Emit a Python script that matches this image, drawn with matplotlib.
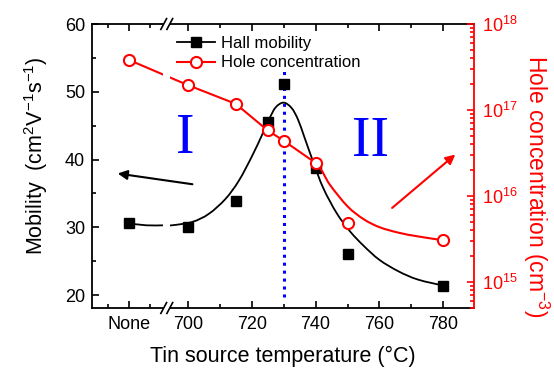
import matplotlib
matplotlib.use("Agg")
import numpy as np
import matplotlib.pyplot as plt
from matplotlib.patches import Rectangle, PathPatch
from matplotlib.path import Path
import matplotlib.transforms as mtransforms

plt.rcParams['font.family'] = ['Liberation Sans', 'DejaVu Sans']
plt.rcParams['mathtext.fontset'] = 'custom'
plt.rcParams['mathtext.rm'] = 'Liberation Sans'
plt.rcParams['mathtext.it'] = 'Liberation Sans:italic'

# ---- data ----
tick_labels = ['None', '700', '720', '740', '760', '780']
tick_pos = [681.5, 700, 720, 740, 760, 780]          # 'None' placed before the axis break
minor_pos = [675, 688.3, 710, 730, 750, 770]

sample_x = [681.5, 700, 715, 725, 730, 740, 750, 780]
mobility = [30.6, 30.1, 33.9, 45.5, 51.1, 38.8, 26.1, 21.3]
hole_conc = [3.83e17, 1.95e17, 1.18e17, 5.8e16, 4.4e16, 2.43e16, 4.9e15, 3.06e15]

# guide curves as drawn in the figure
mob_fit_x = [681.5, 687, 692.5, 695, 701.4, 706.6, 711.8, 716, 720.2, 723.3, 725.5,
             727.5, 730, 732.5, 734.5, 736.5, 739.3, 742.4, 746.6, 750.8,
             755, 760, 766, 772, 780]
mob_fit_y = [30.6, 30.3, 30.3, 30.3, 30.8, 32.0, 34.2, 36.9, 40.6, 43.7, 46.0,
             47.7, 48.4, 47.6, 45.9, 43.3, 39.6, 35.8, 32.1, 29.4,
             27.3, 25.2, 23.5, 22.3, 21.4]

hole_fit_x = [681.5, 700, 715, 725, 730, 740, 744.5, 750, 755, 760, 766, 772, 780]
hole_fit_y = [3.83e17, 1.95e17, 1.18e17, 5.8e16, 4.4e16, 2.43e16, 1.35e16, 7.6e15,
              5.4e15, 4.35e15, 3.75e15, 3.4e15, 3.06e15]

boundary_x = 730
break_x = 693.4


def smooth_path(xs, ys, logy=False, straight_until=0):
    """Bezier path (Catmull-Rom) through the read points; straight segments first."""
    xs = np.asarray(xs, float)
    ys = np.asarray(ys, float)
    if logy:
        ys = np.log10(ys)
    pts = np.column_stack([xs, ys])
    verts = [pts[0]]
    codes = [Path.MOVETO]
    n = len(pts)
    for i in range(n - 1):
        if i < straight_until:
            verts.append(pts[i + 1]); codes.append(Path.LINETO)
            continue
        p0 = pts[i - 1] if i > 0 else pts[i]
        p1, p2 = pts[i], pts[i + 1]
        p3 = pts[i + 2] if i + 2 < n else pts[i + 1]
        c1 = p1 + (p2 - p0) / 6.0
        c2 = p2 - (p3 - p1) / 6.0
        verts += [c1, c2, p2]
        codes += [Path.CURVE4] * 3
    verts = np.array(verts)
    if logy:
        verts[:, 1] = 10 ** verts[:, 1]
    return Path(verts, codes)


# ---- figure ----
fig = plt.figure(figsize=(5.54, 3.68), dpi=100)
ax1 = fig.add_axes([92/554, 1-308/368, (474-92)/554, (308-24)/368])
ax2 = ax1.twinx()

RED = '#ff0000'
BLUE = '#0000ff'

# left axis: mobility
ax1.add_patch(PathPatch(smooth_path(mob_fit_x, mob_fit_y), facecolor='none',
                        edgecolor='black', lw=1.3, zorder=2))
ax1.plot(sample_x, mobility, ls='none', marker='s', ms=7.5, color='black', zorder=3)
ax1.set_xlim(670, 789.6)
ax1.set_ylim(18.1, 60)
ax1.set_yticks([20, 30, 40, 50, 60])
ax1.set_yticks([25, 35, 45, 55], minor=True)
ax1.set_xticks(tick_pos)
ax1.set_xticklabels(tick_labels)
ax1.set_xticks(minor_pos, minor=True)
ax1.tick_params(axis='both', which='both', direction='in', top=True, right=False,
                labelsize=13, width=1.2)
ax1.tick_params(axis='both', which='major', length=5)
ax1.tick_params(axis='both', which='minor', length=3)
ax1.tick_params(axis='x', pad=6)
ax1.tick_params(axis='y', pad=5)
ax1.spines['right'].set_visible(False)
for s in ['left', 'top', 'bottom']:
    ax1.spines[s].set_linewidth(1.3)

ax1.vlines(boundary_x, 19.7, 53.5, colors=BLUE, linestyles=(0, (1, 1.6)), lw=2.2, zorder=1)

ax1.set_xlabel('Tin source temperature (°C)', fontsize=15.5, labelpad=9)
ax1.set_ylabel('Mobility  (cm$^2$V$^{-1}$s$^{-1}$)', fontsize=15.5, labelpad=11)
ax1.yaxis.label.set_y(0.535)

ax1.text(699.2, 43.0, 'I', family=['Liberation Serif'], fontsize=40, color=BLUE,
         ha='center', va='center')
ax1.text(757.1, 42.6, 'II', family=['Liberation Serif'], fontsize=40, color=BLUE,
         ha='center', va='center')

# right axis: hole concentration
ax2.set_yscale('log')
ax2.add_patch(PathPatch(smooth_path(hole_fit_x, hole_fit_y, logy=True, straight_until=5),
                        facecolor='none', edgecolor=RED, lw=1.5, zorder=2))
ax2.plot(sample_x, hole_conc, ls='none', marker='o', ms=8, mfc='white', mec=RED,
         mew=1.5, zorder=3)
ax2.set_ylim(5.0e14, 1e18)
ax2.set_yticks([1e15, 1e16, 1e17, 1e18])
ax2.set_yticklabels([r'$\mathregular{10^{15}}$', r'$\mathregular{10^{16}}$',
                     r'$\mathregular{10^{17}}$', r'$\mathregular{10^{18}}$'])
ax2.tick_params(axis='y', which='both', direction='in', colors=RED, labelsize=13,
                width=1.2, pad=6)
ax2.tick_params(axis='y', which='major', length=5)
ax2.tick_params(axis='y', which='minor', length=3)
ax2.spines['right'].set_color(RED)
ax2.spines['right'].set_linewidth(1.3)
for s in ['left', 'top', 'bottom']:
    ax2.spines[s].set_visible(False)
ax2.set_ylabel('Hole concentration (cm$^{-3}$)', fontsize=16.5, color=RED,
               rotation=270, labelpad=24)
ax2.yaxis.label.set_y(0.43)

# axis break
btrans = mtransforms.blended_transform_factory(ax2.transData, ax2.transAxes)
ax2.add_patch(Rectangle((break_x - 1.1, -0.03), 2.2, 1.06, transform=btrans,
                        facecolor='white', edgecolor='none', clip_on=False, zorder=5))
for yb in (0.0, 1.0):
    for dx in (-0.95, 0.95):
        ax2.plot([break_x + dx - 0.9, break_x + dx + 0.9], [yb - 0.019, yb + 0.019],
                 color='black', lw=1.2, transform=btrans, clip_on=False, zorder=6)

# arrows (drawn above the break mask)
ax2.annotate('', xy=(677.2, 38.0), xytext=(702.3, 36.3),
             xycoords=ax1.transData, textcoords=ax1.transData, zorder=7,
             arrowprops=dict(arrowstyle='-|>', color='black', lw=1.5, mutation_scale=14))
ax2.annotate('', xy=(784.4, 41.0), xytext=(763.3, 32.6),
             xycoords=ax1.transData, textcoords=ax1.transData, zorder=7,
             arrowprops=dict(arrowstyle='-|>', color=RED, lw=1.5, mutation_scale=14))

# legend
h1, = ax2.plot([], [], color='black', lw=1.3, marker='s', ms=7.5)
h2, = ax2.plot([], [], color=RED, lw=1.5, marker='o', ms=8, mfc='white', mec=RED, mew=1.5)
ax2.legend([h1, h2], ['Hall mobility', 'Hole concentration'],
           loc='center left', bbox_to_anchor=((176.7-92)/382, (308-53.3)/284),
           frameon=False, fontsize=12, handlelength=2.3, handletextpad=0.35,
           borderpad=0, borderaxespad=0, labelspacing=0.25)

fig.savefig('out.png', dpi=100)
